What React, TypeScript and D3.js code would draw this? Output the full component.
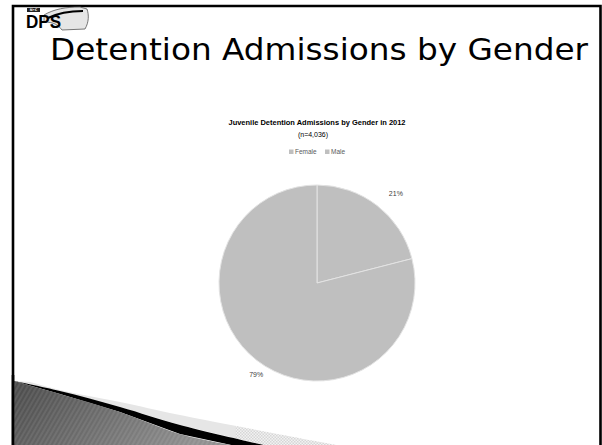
import { useMemo } from 'react';
import * as d3 from 'd3';

// Chart data
const categories = ['Female', 'Male'];
const shares = [21, 79];
const slideTitle = 'Detention Admissions by Gender';
const chartTitle = 'Juvenile Detention Admissions by Gender in 2012';
const chartSubtitle = '(n=4,036)';

const W = 602;
const H = 445;
const cx = 317;
const cy = 283;
const radius = 98;
const sliceColor = '#bfbfbf';

export default function App() {
  const slices = useMemo(() => {
    const pie = d3
      .pie<number>()
      .sort(null)
      .value((d) => d);
    return pie(shares);
  }, []);

  const arc = d3.arc<d3.PieArcDatum<number>>().innerRadius(0).outerRadius(radius);
  const labelArc = d3.arc<d3.PieArcDatum<number>>().innerRadius(114).outerRadius(114);

  // legend layout
  const legendX = d3.scaleOrdinal<string, number>().domain(categories).range([289, 325]);

  // decorative swoosh at the bottom left
  const curve = d3.line<[number, number]>().curve(d3.curveCatmullRom);
  const darkTop: [number, number][] = [[14, 381], [60, 394], [120, 412], [180, 434], [236, 446]];
  const blackTop: [number, number][] = [[14, 381], [60, 391], [120, 407], [180, 425], [268, 446]];
  const lightTop: [number, number][] = [[30, 382], [60, 390], [120, 402], [180, 415], [342, 446]];

  const darkPath = curve(darkTop) + ' L14,446 Z';
  const blackPath = curve(blackTop) + ' L' + [...darkTop].reverse().map((p) => p.join(',')).join(' L') + ' Z';
  const lightPath = curve(lightTop) + ' L' + [...blackTop].reverse().map((p) => p.join(',')).join(' L') + ' Z';

  return (
    <svg
      width={W}
      height={H}
      style={{ position: 'absolute', left: 0, top: 0, background: '#fff' }}
      fontFamily="'DejaVu Sans', sans-serif"
    >
      <defs>
        <linearGradient id="darkGrad" x1="0" y1="0" x2="1" y2="0.3">
          <stop offset="0%" stopColor="#4a4a4a" />
          <stop offset="100%" stopColor="#8f8f8f" />
        </linearGradient>
        <pattern id="stripes" width="4" height="4" patternUnits="userSpaceOnUse" patternTransform="rotate(30)">
          <rect width="2" height="4" fill="#ffffff" opacity="0.08" />
        </pattern>
        <pattern id="checker" width="3" height="3" patternUnits="userSpaceOnUse">
          <rect width="3" height="3" fill="#f2f2f2" />
          <rect width="1.5" height="1.5" fill="#d6d6d6" />
          <rect x="1.5" y="1.5" width="1.5" height="1.5" fill="#d6d6d6" />
        </pattern>
        <clipPath id="lightLeft">
          <rect x="0" y="0" width="235" height={H} />
        </clipPath>
        <clipPath id="lightRight">
          <rect x="235" y="0" width="200" height={H} />
        </clipPath>
      </defs>

      {/* slide frame */}
      <path d={`M13,${H + 5} V6 H600.5 V${H + 5}`} fill="none" stroke="#000" strokeWidth={2.6} />

      {/* bottom swoosh */}
      <path d={lightPath} fill="#e6e6e6" clipPath="url(#lightLeft)" />
      <path d={lightPath} fill="url(#checker)" clipPath="url(#lightRight)" />
      <path d={blackPath} fill="#000" />
      <path d={darkPath} fill="url(#darkGrad)" />
      <path d={darkPath} fill="url(#stripes)" />
      <line x1={13} y1={375} x2={13} y2={H} stroke="#000" strokeWidth={2.6} />

      {/* logo */}
      <g>
        <path
          d="M44,15 C54,9 66,7 80,7 L87,9 C89,15 89,22 85,29 L62,30 C58,25 54,22 44,22 Z"
          fill="#e6e6e6"
          stroke="#555"
          strokeWidth={0.8}
        />
        <path d="M48,18 C58,13 70,11 83,11" fill="none" stroke="#000" strokeWidth={2.2} />
        <rect x={27} y={8} width={13} height={4} fill="#222" />
        <text x={33.5} y={11.2} fontSize={3.4} fill="#fff" textAnchor="middle" fontWeight="bold">
          N•C
        </text>
        <text
          x={26}
          y={28}
          fontSize={18}
          fontWeight="bold"
          fill="#000"
          fontFamily="'Liberation Sans', Arial, sans-serif"
          textLength={35}
          lengthAdjust="spacingAndGlyphs"
        >
          DPS
        </text>
      </g>

      {/* slide title */}
      <text x={50} y={60} fontSize={30} fill="#000" textLength={538} lengthAdjust="spacingAndGlyphs">
        {slideTitle}
      </text>

      {/* chart titles */}
      <g fontFamily="'Liberation Sans', Arial, sans-serif" textAnchor="middle">
        <text x={317} y={125} fontSize={7} fontWeight="bold" fill="#000" textLength={177} lengthAdjust="spacingAndGlyphs">
          {chartTitle}
        </text>
        <text x={313} y={136.5} fontSize={7} fill="#000">
          {chartSubtitle}
        </text>
      </g>

      {/* legend */}
      <g fontFamily="'Liberation Sans', Arial, sans-serif" fontSize={6.5} fill="#595959">
        {categories.map((c) => (
          <g key={c} transform={`translate(${legendX(c)},149.5)`}>
            <rect width={4.5} height={4.5} fill={sliceColor} />
            <text x={6} y={4.6}>
              {c}
            </text>
          </g>
        ))}
      </g>

      {/* pie */}
      <g transform={`translate(${cx},${cy})`}>
        {slices.map((s, i) => (
          <path key={categories[i]} d={arc(s) || ''} fill={sliceColor} stroke="#e3e3e3" strokeWidth={1} />
        ))}
        {slices.map((s, i) => {
          const [lx, ly] = labelArc.centroid(s);
          return (
            <text
              key={'l' + categories[i]}
              x={lx + 9}
              y={ly + 1}
              dy="0.35em"
              textAnchor="middle"
              fontSize={7}
              fill="#404040"
              fontFamily="'Liberation Sans', Arial, sans-serif"
            >
              {shares[i]}%
            </text>
          );
        })}
      </g>
    </svg>
  );
}
